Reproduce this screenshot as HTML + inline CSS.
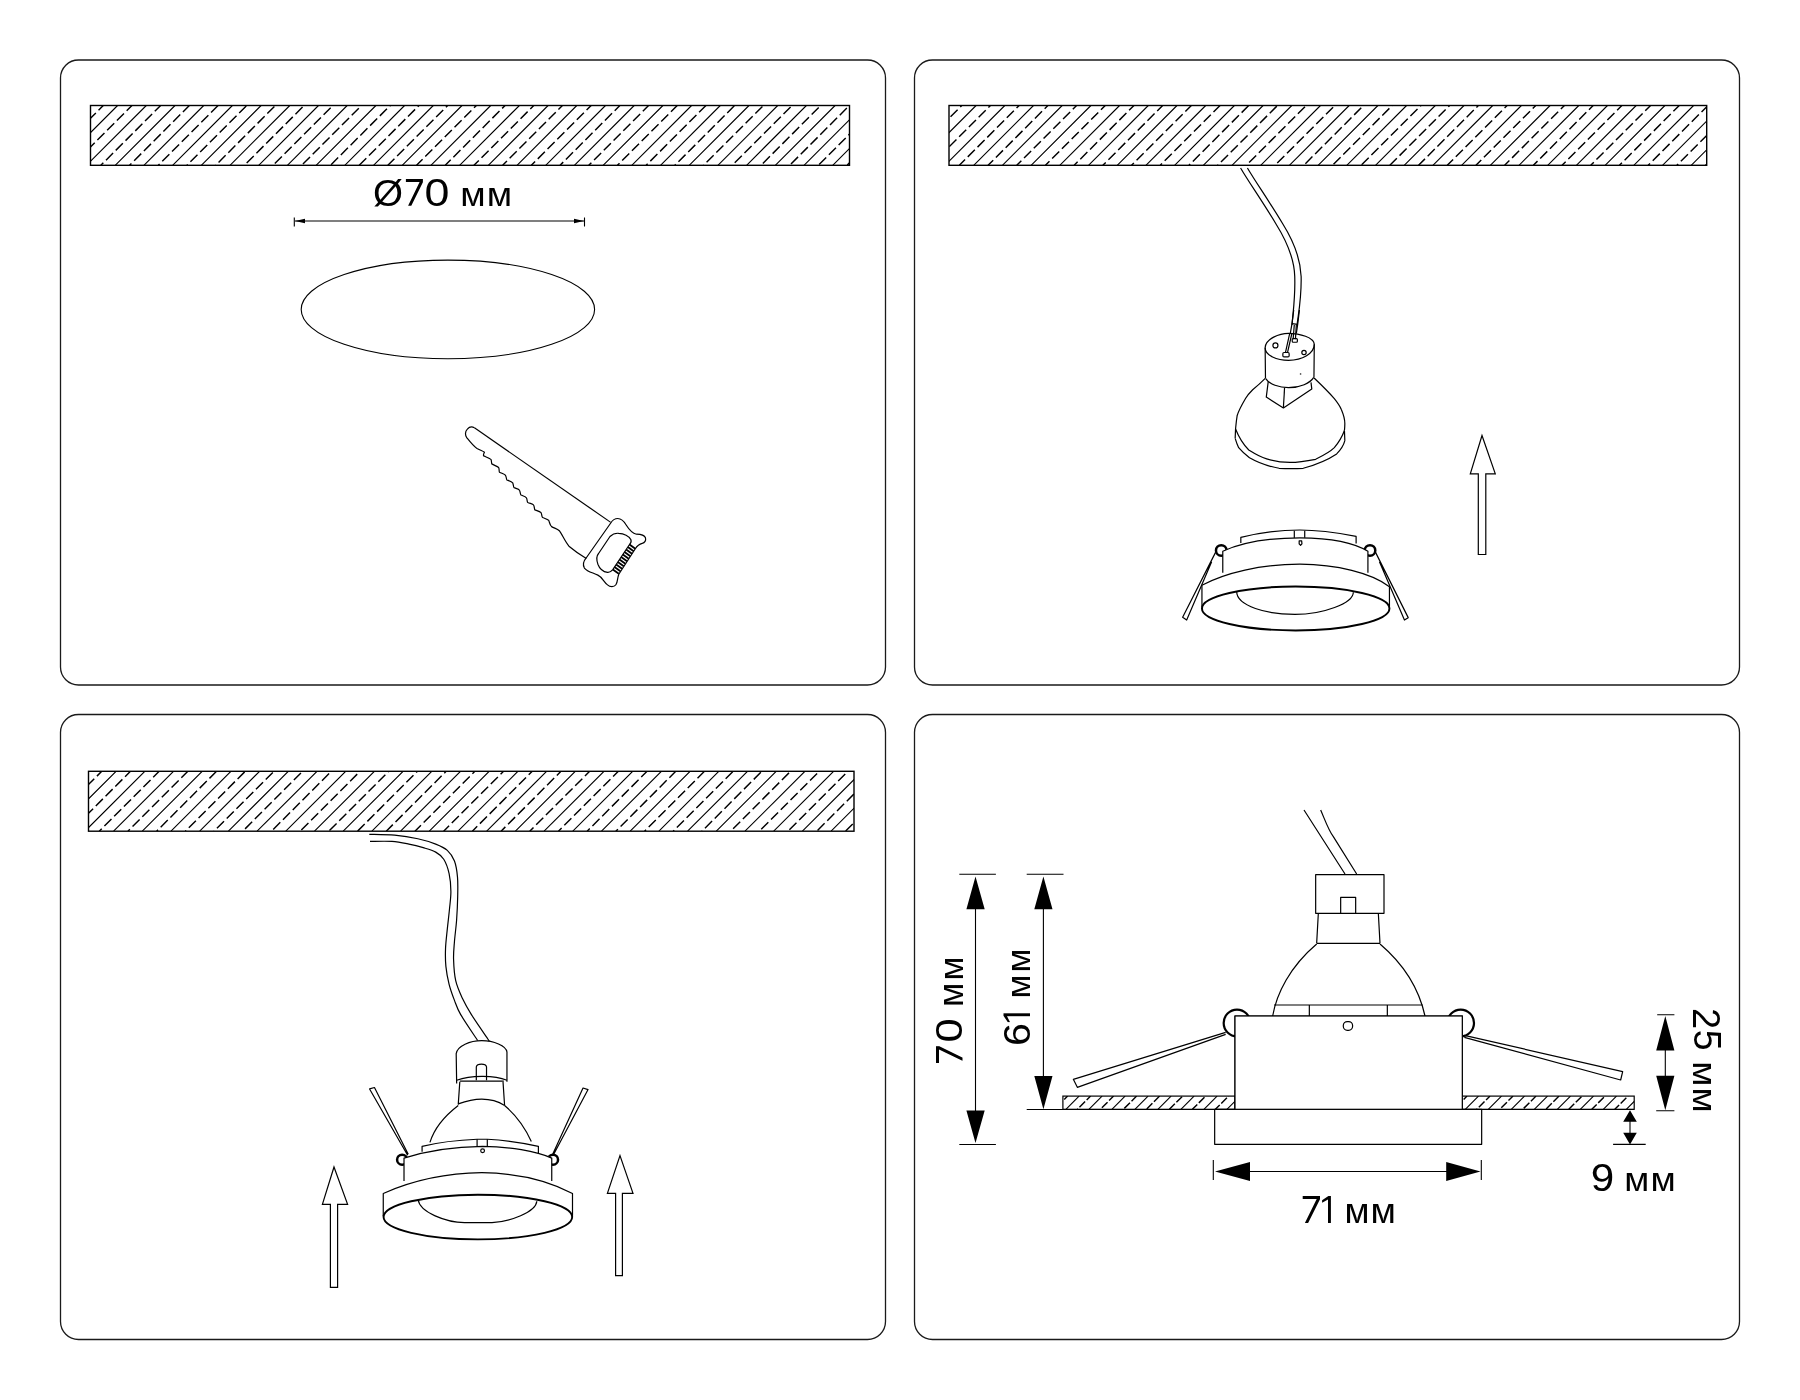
<!DOCTYPE html><html><head><meta charset="utf-8"><style>html,body{margin:0;padding:0;background:#fff;width:1800px;height:1400px;overflow:hidden}</style></head><body><svg width="1800" height="1400" viewBox="0 0 1800 1400" style="display:block">
<rect width="1800" height="1400" fill="#fff"/>
<rect x="60.5" y="60" width="825" height="625" rx="18" ry="18" fill="none" stroke="#1a1a1a" stroke-width="1.3"/>
<rect x="914.5" y="60" width="825" height="625" rx="18" ry="18" fill="none" stroke="#1a1a1a" stroke-width="1.3"/>
<rect x="60.5" y="714.5" width="825" height="625" rx="18" ry="18" fill="none" stroke="#1a1a1a" stroke-width="1.3"/>
<rect x="914.5" y="714.5" width="825" height="625" rx="18" ry="18" fill="none" stroke="#1a1a1a" stroke-width="1.3"/>
<clipPath id="clip1"><rect x="90.5" y="105.5" width="759.0" height="59.80000000000001"/></clipPath>
<g clip-path="url(#clip1)" fill="none" stroke="#000" stroke-width="1.1">
<path d="M29.10,165.30L88.90,105.50M57.80,165.30L117.60,105.50M86.50,165.30L146.30,105.50M115.20,165.30L175.00,105.50M143.90,165.30L203.70,105.50M172.60,165.30L232.40,105.50M201.30,165.30L261.10,105.50M230.00,165.30L289.80,105.50M258.70,165.30L318.50,105.50M287.40,165.30L347.20,105.50M316.10,165.30L375.90,105.50M344.80,165.30L404.60,105.50M373.50,165.30L433.30,105.50M402.20,165.30L462.00,105.50M430.90,165.30L490.70,105.50M459.60,165.30L519.40,105.50M488.30,165.30L548.10,105.50M517.00,165.30L576.80,105.50M545.70,165.30L605.50,105.50M574.40,165.30L634.20,105.50M603.10,165.30L662.90,105.50M631.80,165.30L691.60,105.50M660.50,165.30L720.30,105.50M689.20,165.30L749.00,105.50M717.90,165.30L777.70,105.50M746.60,165.30L806.40,105.50M775.30,165.30L835.10,105.50M804.00,165.30L863.80,105.50M832.70,165.30L892.50,105.50M861.40,165.30L921.20,105.50"/>
<g stroke-dasharray="10 3.8" stroke-width="1.45"><path d="M14.75,165.30L74.55,105.50" stroke-dashoffset="4.1"/><path d="M43.45,165.30L103.25,105.50" stroke-dashoffset="4.9"/><path d="M72.15,165.30L131.95,105.50" stroke-dashoffset="5.7"/><path d="M100.85,165.30L160.65,105.50" stroke-dashoffset="6.5"/><path d="M129.55,165.30L189.35,105.50" stroke-dashoffset="7.3"/><path d="M158.25,165.30L218.05,105.50" stroke-dashoffset="8.1"/><path d="M186.95,165.30L246.75,105.50" stroke-dashoffset="8.9"/><path d="M215.65,165.30L275.45,105.50" stroke-dashoffset="9.7"/><path d="M244.35,165.30L304.15,105.50" stroke-dashoffset="10.5"/><path d="M273.05,165.30L332.85,105.50" stroke-dashoffset="11.3"/><path d="M301.75,165.30L361.55,105.50" stroke-dashoffset="12.1"/><path d="M330.45,165.30L390.25,105.50" stroke-dashoffset="12.9"/><path d="M359.15,165.30L418.95,105.50" stroke-dashoffset="13.7"/><path d="M387.85,165.30L447.65,105.50" stroke-dashoffset="0.7"/><path d="M416.55,165.30L476.35,105.50" stroke-dashoffset="1.5"/><path d="M445.25,165.30L505.05,105.50" stroke-dashoffset="2.3"/><path d="M473.95,165.30L533.75,105.50" stroke-dashoffset="3.1"/><path d="M502.65,165.30L562.45,105.50" stroke-dashoffset="3.9"/><path d="M531.35,165.30L591.15,105.50" stroke-dashoffset="4.7"/><path d="M560.05,165.30L619.85,105.50" stroke-dashoffset="5.5"/><path d="M588.75,165.30L648.55,105.50" stroke-dashoffset="6.3"/><path d="M617.45,165.30L677.25,105.50" stroke-dashoffset="7.1"/><path d="M646.15,165.30L705.95,105.50" stroke-dashoffset="7.9"/><path d="M674.85,165.30L734.65,105.50" stroke-dashoffset="8.7"/><path d="M703.55,165.30L763.35,105.50" stroke-dashoffset="9.5"/><path d="M732.25,165.30L792.05,105.50" stroke-dashoffset="10.3"/><path d="M760.95,165.30L820.75,105.50" stroke-dashoffset="11.1"/><path d="M789.65,165.30L849.45,105.50" stroke-dashoffset="11.9"/><path d="M818.35,165.30L878.15,105.50" stroke-dashoffset="12.7"/><path d="M847.05,165.30L906.85,105.50" stroke-dashoffset="13.5"/></g>
</g>
<rect x="90.5" y="105.5" width="759.0" height="59.80000000000001" fill="none" stroke="#000" stroke-width="1.4"/>
<clipPath id="clip2"><rect x="949.0" y="105.5" width="757.7" height="59.80000000000001"/></clipPath>
<g clip-path="url(#clip2)" fill="none" stroke="#000" stroke-width="1.1">
<path d="M887.60,165.30L947.40,105.50M916.30,165.30L976.10,105.50M945.00,165.30L1004.80,105.50M973.70,165.30L1033.50,105.50M1002.40,165.30L1062.20,105.50M1031.10,165.30L1090.90,105.50M1059.80,165.30L1119.60,105.50M1088.50,165.30L1148.30,105.50M1117.20,165.30L1177.00,105.50M1145.90,165.30L1205.70,105.50M1174.60,165.30L1234.40,105.50M1203.30,165.30L1263.10,105.50M1232.00,165.30L1291.80,105.50M1260.70,165.30L1320.50,105.50M1289.40,165.30L1349.20,105.50M1318.10,165.30L1377.90,105.50M1346.80,165.30L1406.60,105.50M1375.50,165.30L1435.30,105.50M1404.20,165.30L1464.00,105.50M1432.90,165.30L1492.70,105.50M1461.60,165.30L1521.40,105.50M1490.30,165.30L1550.10,105.50M1519.00,165.30L1578.80,105.50M1547.70,165.30L1607.50,105.50M1576.40,165.30L1636.20,105.50M1605.10,165.30L1664.90,105.50M1633.80,165.30L1693.60,105.50M1662.50,165.30L1722.30,105.50M1691.20,165.30L1751.00,105.50M1719.90,165.30L1779.70,105.50"/>
<g stroke-dasharray="10 3.8" stroke-width="1.45"><path d="M873.25,165.30L933.05,105.50" stroke-dashoffset="13.3"/><path d="M901.95,165.30L961.75,105.50" stroke-dashoffset="0.3"/><path d="M930.65,165.30L990.45,105.50" stroke-dashoffset="1.1"/><path d="M959.35,165.30L1019.15,105.50" stroke-dashoffset="1.9"/><path d="M988.05,165.30L1047.85,105.50" stroke-dashoffset="2.7"/><path d="M1016.75,165.30L1076.55,105.50" stroke-dashoffset="3.5"/><path d="M1045.45,165.30L1105.25,105.50" stroke-dashoffset="4.3"/><path d="M1074.15,165.30L1133.95,105.50" stroke-dashoffset="5.1"/><path d="M1102.85,165.30L1162.65,105.50" stroke-dashoffset="5.9"/><path d="M1131.55,165.30L1191.35,105.50" stroke-dashoffset="6.7"/><path d="M1160.25,165.30L1220.05,105.50" stroke-dashoffset="7.5"/><path d="M1188.95,165.30L1248.75,105.50" stroke-dashoffset="8.3"/><path d="M1217.65,165.30L1277.45,105.50" stroke-dashoffset="9.1"/><path d="M1246.35,165.30L1306.15,105.50" stroke-dashoffset="9.9"/><path d="M1275.05,165.30L1334.85,105.50" stroke-dashoffset="10.7"/><path d="M1303.75,165.30L1363.55,105.50" stroke-dashoffset="11.5"/><path d="M1332.45,165.30L1392.25,105.50" stroke-dashoffset="12.3"/><path d="M1361.15,165.30L1420.95,105.50" stroke-dashoffset="13.1"/><path d="M1389.85,165.30L1449.65,105.50" stroke-dashoffset="0.1"/><path d="M1418.55,165.30L1478.35,105.50" stroke-dashoffset="0.9"/><path d="M1447.25,165.30L1507.05,105.50" stroke-dashoffset="1.7"/><path d="M1475.95,165.30L1535.75,105.50" stroke-dashoffset="2.5"/><path d="M1504.65,165.30L1564.45,105.50" stroke-dashoffset="3.3"/><path d="M1533.35,165.30L1593.15,105.50" stroke-dashoffset="4.1"/><path d="M1562.05,165.30L1621.85,105.50" stroke-dashoffset="4.9"/><path d="M1590.75,165.30L1650.55,105.50" stroke-dashoffset="5.7"/><path d="M1619.45,165.30L1679.25,105.50" stroke-dashoffset="6.5"/><path d="M1648.15,165.30L1707.95,105.50" stroke-dashoffset="7.3"/><path d="M1676.85,165.30L1736.65,105.50" stroke-dashoffset="8.1"/><path d="M1705.55,165.30L1765.35,105.50" stroke-dashoffset="8.9"/></g>
</g>
<rect x="949.0" y="105.5" width="757.7" height="59.80000000000001" fill="none" stroke="#000" stroke-width="1.4"/>
<clipPath id="clip3"><rect x="88.5" y="771.3" width="765.5" height="59.90000000000009"/></clipPath>
<g clip-path="url(#clip3)" fill="none" stroke="#000" stroke-width="1.1">
<path d="M27.50,831.20L87.40,771.30M56.20,831.20L116.10,771.30M84.90,831.20L144.80,771.30M113.60,831.20L173.50,771.30M142.30,831.20L202.20,771.30M171.00,831.20L230.90,771.30M199.70,831.20L259.60,771.30M228.40,831.20L288.30,771.30M257.10,831.20L317.00,771.30M285.80,831.20L345.70,771.30M314.50,831.20L374.40,771.30M343.20,831.20L403.10,771.30M371.90,831.20L431.80,771.30M400.60,831.20L460.50,771.30M429.30,831.20L489.20,771.30M458.00,831.20L517.90,771.30M486.70,831.20L546.60,771.30M515.40,831.20L575.30,771.30M544.10,831.20L604.00,771.30M572.80,831.20L632.70,771.30M601.50,831.20L661.40,771.30M630.20,831.20L690.10,771.30M658.90,831.20L718.80,771.30M687.60,831.20L747.50,771.30M716.30,831.20L776.20,771.30M745.00,831.20L804.90,771.30M773.70,831.20L833.60,771.30M802.40,831.20L862.30,771.30M831.10,831.20L891.00,771.30M859.80,831.20L919.70,771.30"/>
<g stroke-dasharray="10 3.8" stroke-width="1.45"><path d="M13.15,831.20L73.05,771.30" stroke-dashoffset="4.1"/><path d="M41.85,831.20L101.75,771.30" stroke-dashoffset="4.9"/><path d="M70.55,831.20L130.45,771.30" stroke-dashoffset="5.7"/><path d="M99.25,831.20L159.15,771.30" stroke-dashoffset="6.5"/><path d="M127.95,831.20L187.85,771.30" stroke-dashoffset="7.3"/><path d="M156.65,831.20L216.55,771.30" stroke-dashoffset="8.1"/><path d="M185.35,831.20L245.25,771.30" stroke-dashoffset="8.9"/><path d="M214.05,831.20L273.95,771.30" stroke-dashoffset="9.7"/><path d="M242.75,831.20L302.65,771.30" stroke-dashoffset="10.5"/><path d="M271.45,831.20L331.35,771.30" stroke-dashoffset="11.3"/><path d="M300.15,831.20L360.05,771.30" stroke-dashoffset="12.1"/><path d="M328.85,831.20L388.75,771.30" stroke-dashoffset="12.9"/><path d="M357.55,831.20L417.45,771.30" stroke-dashoffset="13.7"/><path d="M386.25,831.20L446.15,771.30" stroke-dashoffset="0.7"/><path d="M414.95,831.20L474.85,771.30" stroke-dashoffset="1.5"/><path d="M443.65,831.20L503.55,771.30" stroke-dashoffset="2.3"/><path d="M472.35,831.20L532.25,771.30" stroke-dashoffset="3.1"/><path d="M501.05,831.20L560.95,771.30" stroke-dashoffset="3.9"/><path d="M529.75,831.20L589.65,771.30" stroke-dashoffset="4.7"/><path d="M558.45,831.20L618.35,771.30" stroke-dashoffset="5.5"/><path d="M587.15,831.20L647.05,771.30" stroke-dashoffset="6.3"/><path d="M615.85,831.20L675.75,771.30" stroke-dashoffset="7.1"/><path d="M644.55,831.20L704.45,771.30" stroke-dashoffset="7.9"/><path d="M673.25,831.20L733.15,771.30" stroke-dashoffset="8.7"/><path d="M701.95,831.20L761.85,771.30" stroke-dashoffset="9.5"/><path d="M730.65,831.20L790.55,771.30" stroke-dashoffset="10.3"/><path d="M759.35,831.20L819.25,771.30" stroke-dashoffset="11.1"/><path d="M788.05,831.20L847.95,771.30" stroke-dashoffset="11.9"/><path d="M816.75,831.20L876.65,771.30" stroke-dashoffset="12.7"/><path d="M845.45,831.20L905.35,771.30" stroke-dashoffset="13.5"/></g>
</g>
<rect x="88.5" y="771.3" width="765.5" height="59.90000000000009" fill="none" stroke="#000" stroke-width="1.4"/>
<g stroke="#000" stroke-width="1.1" fill="none"><path d="M294.3,217.5V226.5M584.5,217.5V226.5M295,221H584"/></g>
<path d="M295,221L305,218.8L305,223.2Z M584,221L574,218.8L574,223.2Z" fill="#000"/>
<ellipse cx="447.9" cy="309.4" rx="146.7" ry="49.3" fill="none" stroke="#000" stroke-width="1.1"/>
<g transform="translate(450,415) scale(0.128601)" stroke-width="9.331"><g fill="none" stroke="#000" stroke-linejoin="round">
<path d="M190,100 L1250,835"/>
<path d="M190,100 C170,88 150,92 135,110 C115,130 118,160 130,175 C150,200 180,240 210,260 C230,272 255,280 268,290 C262,300 258,312 262,318
C285,328 305,335 318,345 C325,360 322,375 325,380 C345,392 365,398 378,408 C385,422 380,440 385,445 C405,455 425,460 432,470 C440,485 438,500 442,505 C460,512 480,518 488,528
C495,545 492,560 498,565 C515,572 535,575 540,585 C548,600 545,615 552,622 C570,630 590,635 595,645 C602,660 598,675 605,680 C622,688 645,690 650,700 C658,715 655,730 660,738
C680,745 700,750 708,760 C716,775 712,790 720,797 C740,805 760,810 768,820 C775,835 775,855 790,868 C810,880 835,885 850,900 C870,925 895,985 925,1020 C960,1050 1010,1085 1060,1115"/>
<path d="M1250,840 L1060,1110 C1040,1135 1030,1165 1045,1190 C1070,1220 1110,1225 1150,1245 C1185,1262 1195,1300 1225,1321 C1245,1340 1275,1340 1290,1320 C1305,1300 1300,1270 1312.6,1238 L1441,1039.7 C1450,1025 1465,1005 1495,998 C1515,995 1525,975 1520,955 C1512,935 1490,928 1450,927 C1420,920 1395,895 1370,855 C1350,822 1330,805 1305,805 C1280,805 1262,820 1250,840 Z"/>
<path d="M1395.8,1007 L1266,1202 C1250,1220 1240,1226 1225,1224 C1200,1220 1165,1200 1150,1160 C1138,1125 1140,1095 1154,1079 L1244,945 C1265,925 1290,918 1312,920 C1350,922 1395,940 1407,970 C1412,990 1405,1000 1395.8,1007 Z"/>
<path d="M1395.8,1007.0L1441.0,1039.7M1382.8,1026.5L1428.2,1059.2M1369.8,1046.0L1415.3,1078.7M1356.9,1065.5L1402.5,1098.2M1343.9,1085.0L1389.6,1117.7M1330.9,1104.5L1376.8,1137.2M1317.9,1124.0L1364.0,1156.8M1304.9,1143.5L1351.1,1176.3M1292.0,1163.0L1338.3,1195.8M1279.0,1182.5L1325.4,1215.3M1266.0,1202.0L1312.6,1234.8" stroke-width="14"/>
</g></g>
<g transform="translate(1180,160) scale(0.228571)" stroke-width="5.250"><g fill="none" stroke="#000">
<path d="M265,35 C300,95 360,180 420,280 C470,360 500,430 502,510 C505,600 495,660 490,722"/>
<path d="M295,35 C330,95 390,180 450,280 C500,360 527,430 530,510 C532,600 520,660 512,722"/>
</g></g>
<g transform="translate(1220,310) scale(0.114286)" stroke-width="10.500"><g fill="none" stroke="#000" stroke-linejoin="round">
<path d="M645,0 L630,120 L615,205 M695,0 L680,125 L668,205"/>
<path d="M630,120 L680,125"/>
<path d="M395,330 C400,250 520,205 600,205 C700,205 820,240 825,300 C825,380 720,440 600,440 C500,440 395,400 395,330 Z"/>
<path d="M395,330 L398,595 M825,300 L822,590"/>
<path d="M400,600 C430,650 520,680 600,680 C700,680 790,640 820,590"/>
<circle cx="485" cy="310" r="22"/>
<circle cx="735" cy="372" r="19"/>
<rect x="550" y="372" width="55" height="38" rx="10"/>
<rect x="632" y="250" width="45" height="32" rx="8"/>
<path d="M610,205 L572,375 M628,210 L590,375 M650,130 L640,255 M668,130 L660,255"/>
<circle cx="705" cy="560" r="2" fill="#000"/>
</g></g>
<g transform="translate(1220,380) scale(0.077779)" stroke-width="15.428"><g fill="none" stroke="#000" stroke-linejoin="round">
<path d="M620,20 L595,220 L815,360 L1180,115 L1170,30"/>
<path d="M830,100 L815,360"/>
<path d="M585,-25 C520,40 450,100 420,125 C380,165 350,200 330,235 C280,320 240,390 220,460 C210,520 205,580 200,630"/>
<path d="M1210,-25 C1320,80 1400,160 1470,240 C1510,290 1540,330 1560,380 C1590,450 1605,500 1605,560 C1605,600 1602,630 1600,650"/>
<path d="M200,630 L195,750 M1600,650 L1605,780"/>
<path d="M200,630 C240,730 290,820 370,900 C450,950 520,990 600,1015 C700,1045 800,1060 900,1060 C1030,1060 1130,1040 1230,1020 C1330,970 1410,930 1470,870 C1530,800 1570,730 1600,650"/>
<path d="M195,750 C210,800 225,840 240,870 C290,930 330,960 380,1000 C500,1070 620,1110 760,1135 C860,1140 970,1140 1070,1135 C1230,1090 1380,1030 1500,950 C1560,890 1590,840 1605,780"/>
</g></g>
<g transform="translate(1170,520) scale(0.138889)" stroke-width="8.640"><g fill="none" stroke="#000" stroke-linejoin="round">
<path d="M510,165 L510,125 C650,90 800,72 935,72 C1080,72 1220,95 1340,118 L1340,170"/>
<path d="M895,78 L895,130 M970,78 L970,130"/>
<circle cx="369" cy="219" r="38" stroke-width="18"/>
<circle cx="1440" cy="219" r="38" stroke-width="18"/>
<path d="M380,380 L380,225 C500,170 700,130 935,128 C1150,130 1330,165 1425,225 L1425,380" fill="#fff"/>
<path d="M930,150 L948,150 L950,172 L940,182 L930,172 Z"/>
<path d="M328,233 L91,700 L120,720 L300,300"/>
<path d="M1480,233 L1715,703 L1688,720 L1508,300"/>
<path d="M230,630 L230,470 C400,380 650,320 935,318 C1200,320 1450,380 1580,480 L1580,625"/>
<ellipse cx="905" cy="637" rx="675" ry="158" stroke-width="14"/>
<path d="M480,515 C480,620 700,680 900,680 C1100,680 1320,600 1320,520"/>
</g></g>
<path d="M1482,435.5 L1495.3,473.8 L1485.8,473.8 L1485.8,554.5 L1478.3,554.5 L1478.3,473.8 L1470.3,473.8 Z" fill="none" stroke="#000" stroke-width="1.2" stroke-linejoin="miter"/>
<g transform="translate(350,820) scale(0.178571)" stroke-width="6.720"><g fill="none" stroke="#000"><path d="M108,80C131.7,80.8 204.7,80.8 250,85C295.3,89.2 341.7,96.7 380,105C418.3,113.3 452.5,124.2 480,135C507.5,145.8 527.5,154.2 545,170C562.5,185.8 575.5,205.0 585,230C594.5,255.0 599.0,286.7 602,320C605.0,353.3 603.8,390.0 603,430C602.2,470.0 600.0,518.3 597,560C594.0,601.7 587.8,643.3 585,680C582.2,716.7 578.8,743.3 580,780C581.2,816.7 583.7,863.3 592,900C600.3,936.7 615.3,968.3 630,1000C644.7,1031.7 655.0,1050.3 680,1090C705.0,1129.7 763.3,1213.3 780,1238"/><path d="M112,120C132.5,120.0 198.7,117.5 235,120C271.3,122.5 300.8,129.2 330,135C359.2,140.8 385.0,147.5 410,155C435.0,162.5 460.8,169.2 480,180C499.2,190.8 512.5,200.0 525,220C537.5,240.0 548.3,270.0 555,300C561.7,330.0 564.7,366.7 565,400C565.3,433.3 560.3,465.0 557,500C553.7,535.0 548.7,573.3 545,610C541.3,646.7 536.3,685.0 535,720C533.7,755.0 533.7,786.7 537,820C540.3,853.3 547.0,888.3 555,920C563.0,951.7 574.2,981.7 585,1010C595.8,1038.3 598.3,1052.5 620,1090C641.7,1127.5 699.2,1210.8 715,1235"/></g></g>
<g transform="translate(360,1030) scale(0.157171)" stroke-width="7.635"><g fill="none" stroke="#000" stroke-linejoin="round">
<path d="M615,340 L612,150 C620,100 700,68 775,68 C850,68 930,100 935,140 L935,330"/>
<path d="M615,320 C700,290 850,285 935,320"/>
<path d="M635,325 L915,325"/>
<path d="M740,320 L740,235 C745,212 800,212 805,235 L805,320"/>
<path d="M635,330 L625,475 M910,330 L920,480"/>
<path d="M625,470 C680,450 730,440 775,440 C830,440 880,455 920,480"/>
<path d="M625,480 C560,530 480,600 445,715 M920,480 C990,540 1050,620 1090,710"/>
<path d="M395,775 L395,740 C500,715 620,700 745,695 L810,695 C900,700 1020,715 1135,740 L1135,782"/>
<path d="M745,695 L745,742 M810,695 L810,742"/>
<circle cx="268" cy="825" r="32" stroke-width="16"/>
<circle cx="1228" cy="825" r="32" stroke-width="16"/>
<path d="M280,960 L280,815 C420,770 600,742 780,740 C950,742 1120,770 1220,815 L1220,960" fill="#fff"/>
<circle cx="780" cy="768" r="12"/>
<path d="M303,797 L61,375 L92,366 L307,790"/>
<path d="M1226,790 L1419,369 L1451,379 L1230,795"/>
<path d="M148,1185 L148,1040 C330,960 550,910 775,908 C1000,910 1200,960 1352,1040 L1352,1180"/>
<ellipse cx="750" cy="1190" rx="600" ry="142" stroke-width="12"/>
<path d="M370,1080 C380,1160 550,1225 665,1225 L840,1225 C950,1220 1120,1160 1125,1090"/>
</g></g>
<path d="M334,1167 L347.6,1204.4 L337.6,1204.4 L337.6,1287.4 L330.4,1287.4 L330.4,1204.4 L322.4,1204.4 Z" fill="none" stroke="#000" stroke-width="1.2"/>
<path d="M620,1155.6 L633,1193.4 L622.4,1193.4 L622.4,1275.6 L615.6,1275.6 L615.6,1193.4 L607.4,1193.4 Z" fill="none" stroke="#000" stroke-width="1.2"/>
<path d="M959.3,874.3H995.9M959.3,1144.5H995.9M975.5,900V1120" stroke="#000" stroke-width="1.1" fill="none"/><path d="M975.5,876.6L984.7,909.3L966.4,909.3Z M975.5,1142.9L984.7,1110.4L966.4,1110.4Z" fill="#000"/><path d="M1026.7,874.3H1063.5M1043.4,900V1090" stroke="#000" stroke-width="1.1" fill="none"/><path d="M1043.4,876.6L1052.5,909.3L1034.3,909.3Z M1043.4,1109.3L1052.5,1076.1L1034.3,1076.1Z" fill="#000"/><path d="M1026.7,1109.5H1634.2" stroke="#000" stroke-width="1.2" fill="none"/><path d="M1657.2,1014.8H1674.4M1656.2,1110.7H1674.4M1665.3,1040V1085" stroke="#000" stroke-width="1.1" fill="none"/><path d="M1665.3,1016L1674.4,1050.5L1656.2,1050.5Z M1665.3,1110.3L1674.4,1075.7L1656.2,1075.7Z" fill="#000"/><path d="M1613.1,1144.4H1645.7M1630,1118V1135" stroke="#000" stroke-width="1.1" fill="none"/><path d="M1630,1110.3L1636.8,1121.7L1623.2,1121.7Z M1630,1144.4L1636.8,1132.7L1623.2,1132.7Z" fill="#000"/><path d="M1213.3,1160V1180M1481.3,1160V1180M1230,1171.5H1465" stroke="#000" stroke-width="1.1" fill="none"/><path d="M1215,1171.5L1250,1161.9L1250,1181.1Z M1480.5,1171.5L1446.2,1161.9L1446.2,1181.1Z" fill="#000"/>
<clipPath id="clip41"><rect x="1062.9" y="1096.1" width="172.0999999999999" height="13.200000000000045"/></clipPath>
<g clip-path="url(#clip41)" fill="none" stroke="#000" stroke-width="1.1">
<path d="M1042.90,1109.30L1056.10,1096.10M1065.90,1109.30L1079.10,1096.10M1088.90,1109.30L1102.10,1096.10M1111.90,1109.30L1125.10,1096.10M1134.90,1109.30L1148.10,1096.10M1157.90,1109.30L1171.10,1096.10M1180.90,1109.30L1194.10,1096.10M1203.90,1109.30L1217.10,1096.10M1226.90,1109.30L1240.10,1096.10"/>
<g stroke-dasharray="8 2.2" stroke-width="1.45"><path d="M1031.40,1109.30L1044.60,1096.10" stroke-dashoffset="5.7"/><path d="M1054.40,1109.30L1067.60,1096.10" stroke-dashoffset="6.5"/><path d="M1077.40,1109.30L1090.60,1096.10" stroke-dashoffset="7.3"/><path d="M1100.40,1109.30L1113.60,1096.10" stroke-dashoffset="8.1"/><path d="M1123.40,1109.30L1136.60,1096.10" stroke-dashoffset="8.9"/><path d="M1146.40,1109.30L1159.60,1096.10" stroke-dashoffset="9.7"/><path d="M1169.40,1109.30L1182.60,1096.10" stroke-dashoffset="10.5"/><path d="M1192.40,1109.30L1205.60,1096.10" stroke-dashoffset="11.3"/><path d="M1215.40,1109.30L1228.60,1096.10" stroke-dashoffset="12.1"/><path d="M1238.40,1109.30L1251.60,1096.10" stroke-dashoffset="12.9"/></g>
</g>
<rect x="1062.9" y="1096.1" width="172.0999999999999" height="13.200000000000045" fill="none" stroke="#000" stroke-width="1.2"/>
<clipPath id="clip42"><rect x="1462.3" y="1096.1" width="171.9000000000001" height="13.200000000000045"/></clipPath>
<g clip-path="url(#clip42)" fill="none" stroke="#000" stroke-width="1.1">
<path d="M1442.30,1109.30L1455.50,1096.10M1465.30,1109.30L1478.50,1096.10M1488.30,1109.30L1501.50,1096.10M1511.30,1109.30L1524.50,1096.10M1534.30,1109.30L1547.50,1096.10M1557.30,1109.30L1570.50,1096.10M1580.30,1109.30L1593.50,1096.10M1603.30,1109.30L1616.50,1096.10M1626.30,1109.30L1639.50,1096.10"/>
<g stroke-dasharray="8 2.2" stroke-width="1.45"><path d="M1430.80,1109.30L1444.00,1096.10" stroke-dashoffset="5.7"/><path d="M1453.80,1109.30L1467.00,1096.10" stroke-dashoffset="6.5"/><path d="M1476.80,1109.30L1490.00,1096.10" stroke-dashoffset="7.3"/><path d="M1499.80,1109.30L1513.00,1096.10" stroke-dashoffset="8.1"/><path d="M1522.80,1109.30L1536.00,1096.10" stroke-dashoffset="8.9"/><path d="M1545.80,1109.30L1559.00,1096.10" stroke-dashoffset="9.7"/><path d="M1568.80,1109.30L1582.00,1096.10" stroke-dashoffset="10.5"/><path d="M1591.80,1109.30L1605.00,1096.10" stroke-dashoffset="11.3"/><path d="M1614.80,1109.30L1628.00,1096.10" stroke-dashoffset="12.1"/><path d="M1637.80,1109.30L1651.00,1096.10" stroke-dashoffset="12.9"/></g>
</g>
<rect x="1462.3" y="1096.1" width="171.9000000000001" height="13.200000000000045" fill="none" stroke="#000" stroke-width="1.2"/>
<g transform="translate(1050,800) scale(0.333333)" stroke-width="3.600"><g fill="none" stroke="#000" stroke-linejoin="round">
<path d="M762,30 L885,222 M812,30 C825,60 835,90 850,110 C875,150 900,190 920,222"/>
<rect x="797" y="224" width="205" height="116"/>
<path d="M872,340 L872,292 L917,292 L917,340"/>
<path d="M805,340 L800,430 M985,340 L990,430 M800,430 L990,430"/>
<path d="M800,432 C720,500 680,580 668,648 M990,432 C1070,500 1110,580 1125,648"/>
<path d="M672,615 L1118,615 M778,615 L778,648 M1012,615 L1012,648"/>
<rect x="555" y="648" width="682" height="280" fill="#fff"/>
<rect x="880" y="665" width="28" height="26" rx="12"/>
<circle cx="561" cy="669" r="40" stroke-width="6.6"/>
<circle cx="1232" cy="669" r="40" stroke-width="6.6"/>
<path d="M527,697 L70,838 L82,862 L527,703"/>
<path d="M1243,706 L1718,815 L1712,840 L1243,712"/>
<rect x="494" y="928" width="801" height="105"/>
</g></g>
<rect x="1235" y="1016" width="227.3" height="93.3" fill="#fff" stroke="#000" stroke-width="1.2"/>
<rect x="1343.3" y="1021.6" width="9.3" height="8.7" rx="4" fill="none" stroke="#000" stroke-width="1.2"/>
<g style="opacity:0.999"><text transform="translate(372.96,205.74) scale(0.3857,0.3784)" font-family="Liberation Sans, sans-serif" font-size="100" fill="#000">Ø</text><path d="M405.90,179.10L422.90,179.10L422.90,182.30L411.30,205.80L408.10,205.80L419.60,181.90L405.90,181.90Z" fill="#000"/><text transform="translate(424.61,205.62) scale(0.4479,0.3789)" font-family="Liberation Sans, sans-serif" font-size="100" fill="#000">0</text><text transform="translate(460.32,205.90) scale(0.3691,0.3377)" font-family="Liberation Sans, sans-serif" font-size="100" fill="#000">м</text><text transform="translate(486.82,205.90) scale(0.3691,0.3377)" font-family="Liberation Sans, sans-serif" font-size="100" fill="#000">м</text><path d="M1302.70,1196.10L1320.00,1196.10L1320.00,1199.30L1308.10,1222.90L1304.90,1222.90L1316.70,1198.90L1302.70,1198.90Z" fill="#000"/><path d="M1322.10,1200.30L1328.40,1196.10L1330.90,1196.10L1330.90,1222.90L1328.00,1222.90L1328.00,1199.50L1322.10,1202.70Z" fill="#000"/><text transform="translate(1344.45,1223.00) scale(0.3636,0.3453)" font-family="Liberation Sans, sans-serif" font-size="100" fill="#000">м</text><text transform="translate(1370.42,1223.00) scale(0.3691,0.3453)" font-family="Liberation Sans, sans-serif" font-size="100" fill="#000">м</text><text transform="translate(1590.69,1191.01) scale(0.4217,0.3873)" font-family="Liberation Sans, sans-serif" font-size="100" fill="#000">9</text><text transform="translate(1624.35,1190.80) scale(0.3636,0.3396)" font-family="Liberation Sans, sans-serif" font-size="100" fill="#000">м</text><text transform="translate(1650.53,1190.80) scale(0.3673,0.3396)" font-family="Liberation Sans, sans-serif" font-size="100" fill="#000">м</text><g transform="rotate(-90)"><path d="M-1063.00,936.10L-1046.20,936.10L-1046.20,939.30L-1057.60,962.60L-1060.80,962.60L-1049.50,938.90L-1063.00,938.90Z" fill="#000"/><text transform="translate(-1042.44,962.23) scale(0.4354,0.3732)" font-family="Liberation Sans, sans-serif" font-size="100" fill="#000">0</text><text transform="translate(-1006.88,962.60) scale(0.3545,0.3415)" font-family="Liberation Sans, sans-serif" font-size="100" fill="#000">м</text><text transform="translate(-980.43,962.60) scale(0.3473,0.3415)" font-family="Liberation Sans, sans-serif" font-size="100" fill="#000">м</text><text transform="translate(-1045.97,1029.63) scale(0.4130,0.3732)" font-family="Liberation Sans, sans-serif" font-size="100" fill="#000">6</text><path d="M-1022.10,1007.70L-1015.80,1003.50L-1013.30,1003.50L-1013.30,1030.00L-1016.20,1030.00L-1016.20,1006.90L-1022.10,1010.10Z" fill="#000"/><text transform="translate(-998.53,1030.00) scale(0.3473,0.3340)" font-family="Liberation Sans, sans-serif" font-size="100" fill="#000">м</text><text transform="translate(-972.53,1030.00) scale(0.3473,0.3340)" font-family="Liberation Sans, sans-serif" font-size="100" fill="#000">м</text></g><g transform="rotate(90)"><text transform="translate(1008.00,-1693.30) scale(0.3804,0.3800)" font-family="Liberation Sans, sans-serif" font-size="100" fill="#000">2</text><text transform="translate(1029.80,-1693.68) scale(0.3745,0.3800)" font-family="Liberation Sans, sans-serif" font-size="100" fill="#000">5</text><text transform="translate(1061.34,-1693.30) scale(0.3655,0.3321)" font-family="Liberation Sans, sans-serif" font-size="100" fill="#000">м</text><text transform="translate(1087.44,-1693.30) scale(0.3655,0.3321)" font-family="Liberation Sans, sans-serif" font-size="100" fill="#000">м</text></g></g>
</svg></body></html>
